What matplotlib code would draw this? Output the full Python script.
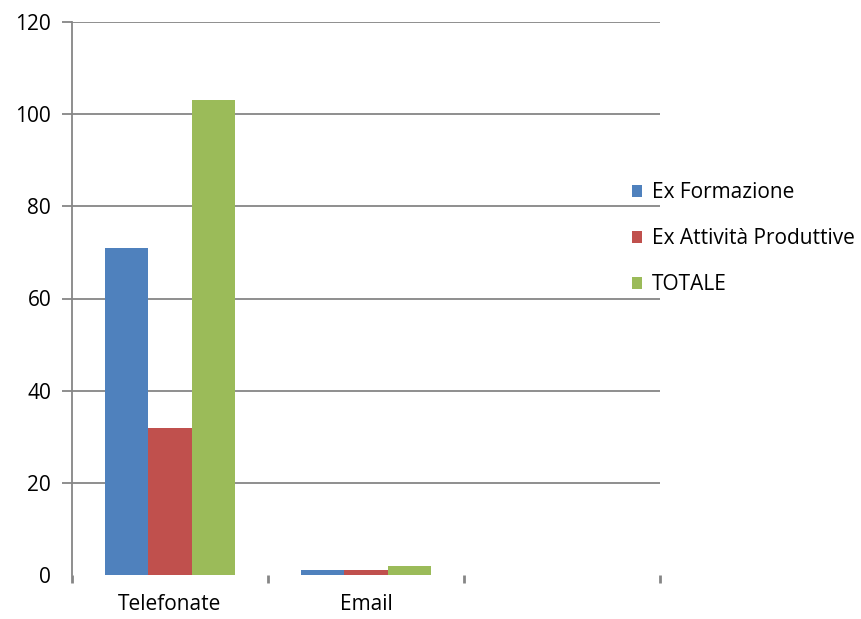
import matplotlib.pyplot as plt
import numpy as np

# dati del grafico
categorie = ['Telefonate', 'Email', '']
ex_formazione = [71, 1, 0]
ex_attivita = [32, 1, 0]
totale = [103, 2, 0]
serie = ['Ex Formazione', 'Ex Attività Produttive', 'TOTALE']
colori = ['#4f81bd', '#c0504d', '#9bbb59']

plt.rcParams['font.family'] = ['Open Sans', 'DejaVu Sans']

fig = plt.figure(figsize=(8.62, 6.19), dpi=100)
ax = fig.add_axes([72 / 862, 44 / 619, 588 / 862, 553 / 619])

x = np.arange(len(categorie)) + 0.5
w = 0.22
for i, (val, nome) in enumerate(zip([ex_formazione, ex_attivita, totale], serie)):
    ax.bar(x + (i - 1) * w, val, width=w, color=colori[i], label=nome, zorder=2)

ax.set_xlim(0, 3)
ax.set_ylim(0, 120)
ax.set_yticks(range(0, 121, 20))
ax.yaxis.grid(True, color='#868686', linewidth=1.3, zorder=0)
ax.tick_params(axis='y', length=7, width=1.3, color='#868686', labelsize=15, pad=8)
# niente griglia né tacca sullo zero
t0 = ax.yaxis.get_major_ticks()[0]
t0.gridline.set_visible(False)
t0.tick1line.set_visible(False)

# tacche tra le categorie, etichette al centro
ax.set_xticks([0, 1, 2, 3])
ax.set_xticklabels([])
ax.set_xticks(x, minor=True)
ax.set_xticklabels(categorie, minor=True)
ax.tick_params(axis='x', which='major', length=6, width=2, color='#868686')
ax.tick_params(axis='x', which='minor', length=0, labelsize=15, pad=14)

for s in ['top', 'right', 'bottom']:
    ax.spines[s].set_visible(False)
ax.spines['left'].set_color('#868686')
ax.spines['left'].set_linewidth(1.3)

ax.legend(loc='center left', bbox_to_anchor=(0.92, 0.608), frameon=False,
          fontsize=15, handlelength=0.5, handleheight=0.5, handletextpad=0.45,
          labelspacing=1.2)

fig.savefig('out.png', dpi=100)
